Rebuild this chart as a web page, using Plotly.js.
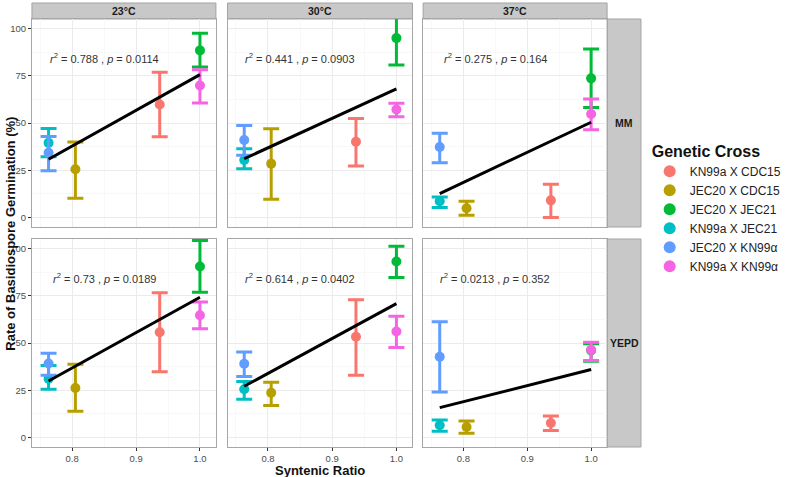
<!DOCTYPE html>
<html>
<head>
<meta charset="utf-8">
<script src="https://cdn.plot.ly/plotly-3.0.1.min.js"></script>
<style>html,body{margin:0;padding:0;background:#fff;}#chart{width:787px;height:477px;}</style>
</head>
<body>
<div id="chart"></div>
<script>
// ---- data ----
const crosses = ["KN99a X CDC15", "JEC20 X CDC15", "JEC20 X JEC21", "KN99a X JEC21", "JEC20 X KN99\u03b1", "KN99a X KN99\u03b1"];
const crossColors = ["#F8766D", "#B79F00", "#00BA38", "#00BFC4", "#619CFF", "#F564E3"];
const syntenicRatio = [0.937, 0.805, 1.0, 0.763, 0.763, 1.0];
const temperatures = ["23\u00b0C", "30\u00b0C", "37\u00b0C"];
const media = ["MM", "YEPD"];

const mm23Mean = [59.8, 25.5, 88.4, 39.5, 34.3, 69.8];
const mm23Hi   = [76.8, 39.9, 97.5, 47.1, 42.9, 78.2];
const mm23Lo   = [42.7, 10.2, 79.6, 32.2, 24.8, 60.6];
const mm30Mean = [40.1, 28.5, 94.9, 30.4, 41.0, 57.1];
const mm30Hi   = [52.4, 46.9, 110.0, 36.4, 48.7, 60.5];
const mm30Lo   = [27.2, 9.7, 80.7, 25.8, 32.9, 53.3];
const mm37Mean = [9.1, 4.9, 73.6, 8.6, 37.3, 54.8];
const mm37Hi   = [17.6, 8.6, 89.1, 10.9, 44.6, 62.7];
const mm37Lo   = [0.0, 1.2, 58.2, 5.3, 29.0, 46.4];
const yepd23Mean = [55.7, 26.2, 90.5, 31.1, 39.2, 64.7];
const yepd23Hi   = [76.6, 38.8, 104.2, 38.1, 44.6, 71.7];
const yepd23Lo   = [34.8, 13.9, 76.8, 25.5, 32.9, 57.5];
const yepd30Mean = [53.3, 23.7, 93.1, 25.5, 39.0, 56.1];
const yepd30Hi   = [72.9, 29.3, 101.1, 29.7, 45.2, 64.1];
const yepd30Lo   = [32.9, 17.0, 84.7, 20.2, 32.3, 47.6];
const yepd37Mean = [7.7, 5.6, 46.0, 6.5, 42.7, 46.4];
const yepd37Hi   = [11.4, 8.8, 49.6, 9.3, 61.2, 50.4];
const yepd37Lo   = [3.7, 2.3, 40.4, 3.3, 24.1, 40.8];

const fitX = [0.763, 1.0];
const fitMM23 = [30.8, 75.6];
const fitMM30 = [31.1, 68.0];
const fitMM37 = [12.7, 50.4];
const fitYEPD23 = [29.9, 74.2];
const fitYEPD30 = [27.1, 70.8];
const fitYEPD37 = [15.8, 36.0];

const r2Labels = ["0.788", "0.441", "0.275", "0.73", "0.614", "0.0213"];
const pLabels  = ["0.0114", "0.0903", "0.164", "0.0189", "0.0402", "0.352"];

const xTicks = [0.8, 0.9, 1.0];
const xTickText = ["0.8", "0.9", "1.0"];
const yTicks = [0, 25, 50, 75, 100];

// ---- panels (row-major: MM 23,30,37 ; YEPD 23,30,37) ----
const panels = [
  {mean: mm23Mean, hi: mm23Hi, lo: mm23Lo, fit: fitMM23},
  {mean: mm30Mean, hi: mm30Hi, lo: mm30Lo, fit: fitMM30},
  {mean: mm37Mean, hi: mm37Hi, lo: mm37Lo, fit: fitMM37},
  {mean: yepd23Mean, hi: yepd23Hi, lo: yepd23Lo, fit: fitYEPD23},
  {mean: yepd30Mean, hi: yepd30Hi, lo: yepd30Lo, fit: fitYEPD30},
  {mean: yepd37Mean, hi: yepd37Hi, lo: yepd37Lo, fit: fitYEPD37}
];

const W = 787, H = 477;
const colPx = [[33, 223], [235, 426], [437, 627]];
const rowPx = [[19, 227], [239, 447]];
const FONT = "Liberation Sans, Arial, sans-serif";

const traces = [];
const layout = {
  width: W, height: H,
  margin: {l: 0, r: 0, t: 0, b: 0},
  paper_bgcolor: "#fff", plot_bgcolor: "#fff",
  font: {family: FONT, color: "#333"},
  showlegend: true,
  legend: {
    x: 671 / W, y: 1 - 136 / H, xanchor: "left", yanchor: "top",
    title: {text: "<b>Genetic Cross</b>", font: {size: 16, color: "#111", family: FONT}},
    font: {size: 12, color: "#222", family: FONT},
    itemsizing: "constant", tracegroupgap: 0, bgcolor: "rgba(0,0,0,0)"
  },
  shapes: [], annotations: []
};

panels.forEach((p, i) => {
  const r = Math.floor(i / 3), c = i % 3;
  const n = i + 1;
  const xa = "x" + (n === 1 ? "" : n), ya = "y" + (n === 1 ? "" : n);
  const xk = "xaxis" + (n === 1 ? "" : n), yk = "yaxis" + (n === 1 ? "" : n);
  layout[xk] = {
    domain: [colPx[c][0] / W, colPx[c][1] / W], anchor: ya,
    range: [0.737, 1.025], tickvals: xTicks, ticktext: xTickText,
    showticklabels: r === 1, ticks: r === 1 ? "outside" : "", ticklen: 3, tickcolor: "#333",
    tickfont: {size: 9.5, color: "#4d4d4d"},
    showgrid: true, gridcolor: "#ebebeb", gridwidth: 1, zeroline: false,
    minor: {tickvals: [0.75, 0.85, 0.95], showgrid: true, gridcolor: "#f4f4f4", gridwidth: 0.6, ticks: ""},
    showline: true, mirror: true, linecolor: "#a6a6a6", linewidth: 1
  };
  layout[yk] = {
    domain: [1 - rowPx[r][1] / H, 1 - rowPx[r][0] / H], anchor: xa,
    range: [-5, 105], tickvals: yTicks,
    showticklabels: c === 0, ticks: c === 0 ? "outside" : "", ticklen: 3, tickcolor: "#333",
    tickfont: {size: 9.5, color: "#4d4d4d"},
    showgrid: true, gridcolor: "#ebebeb", gridwidth: 1, zeroline: false,
    minor: {tickvals: [12.5, 37.5, 62.5, 87.5], showgrid: true, gridcolor: "#f4f4f4", gridwidth: 0.6, ticks: ""},
    showline: true, mirror: true, linecolor: "#a6a6a6", linewidth: 1
  };
  crosses.forEach((name, k) => {
    traces.push({
      type: "scatter", mode: "markers", xaxis: xa, yaxis: ya,
      x: [syntenicRatio[k]], y: [p.mean[k]],
      name: name, legendgroup: name, showlegend: i === 0,
      marker: {color: crossColors[k], size: 10},
      error_y: {type: "data", symmetric: false,
        array: [p.hi[k] - p.mean[k]], arrayminus: [p.mean[k] - p.lo[k]],
        color: crossColors[k], thickness: 3, width: 8},
      cliponaxis: true, hoverinfo: "skip"
    });
  });
  traces.push({
    type: "scatter", mode: "lines", xaxis: xa, yaxis: ya,
    x: fitX, y: p.fit, showlegend: false,
    line: {color: "#000", width: 3}, hoverinfo: "skip"
  });
  layout.annotations.push({
    xref: xa, yref: ya, x: 0.85, y: 84.5, showarrow: false,
    text: "<i>r</i><sup>2</sup> = " + r2Labels[i] + " , <i>p</i> = " + pLabels[i],
    font: {size: 11, color: "#333", family: FONT}, xanchor: "center", yanchor: "middle"
  });
});

// strips
temperatures.forEach((t, c) => {
  layout.shapes.push({type: "rect", xref: "paper", yref: "paper",
    x0: colPx[c][0] / W, x1: colPx[c][1] / W, y0: 1 - 19 / H, y1: 1 - 3 / H,
    fillcolor: "#c8c8c8", line: {color: "#a3a3a3", width: 1}, layer: "below"});
  layout.annotations.push({xref: "paper", yref: "paper",
    x: (colPx[c][0] + colPx[c][1]) / 2 / W, y: 1 - 11 / H, showarrow: false,
    text: "<b>" + t + "</b>", font: {size: 10.5, color: "#1a1a1a"}, xanchor: "center", yanchor: "middle"});
});
media.forEach((m, r) => {
  layout.shapes.push({type: "rect", xref: "paper", yref: "paper",
    x0: 627 / W, x1: 662 / W, y0: 1 - rowPx[r][1] / H, y1: 1 - rowPx[r][0] / H,
    fillcolor: "#c8c8c8", line: {color: "#a3a3a3", width: 1}, layer: "below"});
  layout.annotations.push({xref: "paper", yref: "paper",
    x: 644.5 / W, y: 1 - (rowPx[r][0] + rowPx[r][1]) / 2 / H, showarrow: false,
    text: "<b>" + m + "</b>", font: {size: 10.5, color: "#1a1a1a"}, xanchor: "center", yanchor: "middle"});
});

// axis titles
layout.annotations.push({xref: "paper", yref: "paper", x: 10 / W, y: 1 - 234 / H,
  showarrow: false, textangle: -90, text: "<b>Rate of Basidiospore Germination (%)</b>",
  font: {size: 13, color: "#111"}, xanchor: "center", yanchor: "middle"});
layout.annotations.push({xref: "paper", yref: "paper", x: 330 / W, y: 1 - 470 / H,
  showarrow: false, text: "<b>Syntenic Ratio</b>",
  font: {size: 13, color: "#111"}, xanchor: "center", yanchor: "middle"});

Plotly.newPlot("chart", traces, layout, {staticPlot: true, displayModeBar: false});
</script>
</body>
</html>
